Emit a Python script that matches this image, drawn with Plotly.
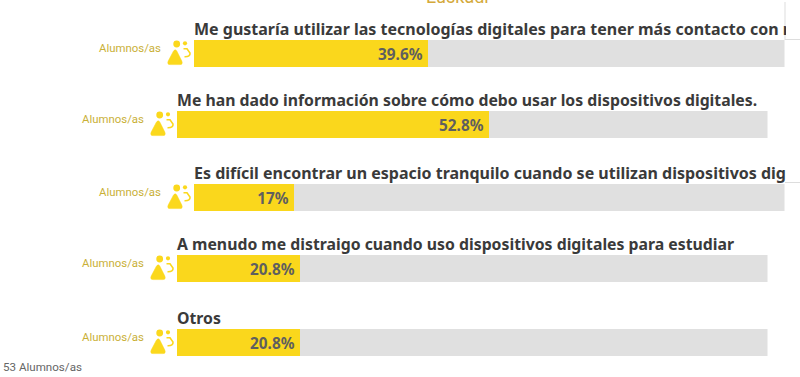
import plotly.graph_objects as go

questions = [
    "Me gustaría utilizar las tecnologías digitales para tener más contacto con mis compañeros/as",
    "Me han dado información sobre cómo debo usar los dispositivos digitales.",
    "Es difícil encontrar un espacio tranquilo cuando se utilizan dispositivos digitales",
    "A menudo me distraigo cuando uso dispositivos digitales para estudiar",
    "Otros",
]
values = [39.6, 52.8, 17, 20.8, 20.8]
value_labels = ["39.6%", "52.8%", "17%", "20.8%", "20.8%"]
row_label = "Alumnos/as"
footer = "53 Alumnos/as"
top_label = "Euskadi"

W, H = 800, 377
BAR_W = 590.5
left = [194, 177, 194, 177, 177]
top = [40, 111, 184, 255, 329]
BAR_H = 27
GOLD = "#c9b037"
ICON = "#fbd81c"
YELLOW = "#fad71c"
GREY = "#e0e0e0"
DARK = "#3a3a3a"
TITLE_FONT = "Noto Sans"
BODY_FONT = "Roboto"


def px(x):
    return x / W


def py(y):
    return 1 - y / H


fig = go.Figure()
layout = {}
annotations = []
shapes = []


def icon(x0, y0):
    # x0, y0: bar's top-left corner in pixels
    def P(x, y):
        return f"{px(x0 + x):.5f},{py(y0 + y):.5f}"

    def circle(cx, cy, r):
        shapes.append(dict(type="circle", xref="paper", yref="paper",
                           x0=px(x0 + cx - r), x1=px(x0 + cx + r),
                           y0=py(y0 + cy + r), y1=py(y0 + cy - r),
                           fillcolor=ICON, line=dict(width=0)))

    circle(-17.3, 4, 3.4)
    circle(-9, 3.3, 2.1)
    shapes.append(dict(type="path", xref="paper", yref="paper",
                       path=(f"M{P(-20.5, 11)} Q{P(-18.8, 8.6)} {P(-17.2, 11)} L{P(-12.2, 21)} "
                             f"Q{P(-10.8, 24.6)} {P(-14, 24.6)} L{P(-24, 24.6)} "
                             f"Q{P(-27.2, 24.6)} {P(-25.8, 21)} Z"),
                       fillcolor=ICON, line=dict(color=ICON, width=0.5)))
    shapes.append(dict(type="path", xref="paper", yref="paper",
                       path=f"M{P(-10.5, 8.8)} L{P(-7, 8.8)} L{P(-4, 13)} Q{P(-3.5, 17)} {P(-9.5, 16.8)}",
                       line=dict(color=ICON, width=1.6)))


for i, (q, v, lab) in enumerate(zip(questions, values, value_labels)):
    n = "" if i == 0 else str(i + 1)
    x0, y0 = left[i], top[i]
    clipped = x0 == 194
    fig.add_trace(go.Bar(x=[100], y=[0], orientation="h", marker=dict(color=GREY, line=dict(width=0)),
                         xaxis=f"x{n}", yaxis=f"y{n}", hoverinfo="skip", showlegend=False))
    fig.add_trace(go.Bar(x=[v], y=[0], orientation="h", marker=dict(color=YELLOW, line=dict(width=0)),
                         text=[lab], texttemplate="%{text}\u2009", textposition="inside",
                         insidetextanchor="end", textangle=0, constraintext="none",
                         textfont=dict(family="Noto Sans", size=15.3, color="#5f5f5f", weight=700),
                         xaxis=f"x{n}", yaxis=f"y{n}", showlegend=False))
    layout[f"xaxis{n}"] = dict(domain=[px(x0), px(x0 + BAR_W)], range=[0, 100], visible=False,
                               anchor=f"y{n}", fixedrange=True)
    layout[f"yaxis{n}"] = dict(domain=[py(y0 + BAR_H), py(y0)], range=[-0.5, 0.5], visible=False,
                               anchor=f"x{n}", fixedrange=True)
    annotations.append(dict(text=f"<b>{q}</b>", xref="paper", yref="paper", x=px(x0 - 1), y=py(y0 + 1),
                            xanchor="left", yanchor="bottom", align="left", showarrow=False,
                            width=592 if clipped else None,
                            font=dict(family=TITLE_FONT, size=16 if clipped else 15.8, color=DARK),
                            borderpad=0))
    annotations.append(dict(text=row_label, xref="paper", yref="paper", x=px(x0 - 31), y=py(y0 + 8),
                            xanchor="right", yanchor="middle", showarrow=False,
                            font=dict(family=BODY_FONT, size=11.4, color=GOLD)))
    icon(x0, y0)

annotations.append(dict(text=footer, xref="paper", yref="paper", x=px(1), y=py(367), xanchor="left",
                        yanchor="middle", showarrow=False,
                        font=dict(family=BODY_FONT, size=11.6, color="#666666")))
annotations.append(dict(text=top_label, xref="paper", yref="paper", x=px(457), y=py(-4), xanchor="center",
                        yanchor="middle", showarrow=False,
                        font=dict(family=BODY_FONT, size=18, color="#d4a93a")))

shapes.append(dict(type="line", xref="paper", yref="paper", x0=px(785), x1=px(785), y0=py(2), y1=py(40),
                   line=dict(color="#dddddd", width=1)))
shapes.append(dict(type="line", xref="paper", yref="paper", x0=px(785), x1=px(800), y0=py(39.5), y1=py(39.5),
                   line=dict(color="#dddddd", width=1)))
shapes.append(dict(type="line", xref="paper", yref="paper", x0=px(785), x1=px(800), y0=py(182.5), y1=py(182.5),
                   line=dict(color="#dddddd", width=1)))

fig.update_layout(width=W, height=H, margin=dict(l=0, r=0, t=0, b=0), paper_bgcolor="white",
                  plot_bgcolor="white", barmode="overlay", bargap=0, annotations=annotations,
                  shapes=shapes, **layout)
fig.write_html("out.html", config={"displayModeBar": False},
               post_script="document.body.style.margin='0';document.body.style.overflow='hidden';")
